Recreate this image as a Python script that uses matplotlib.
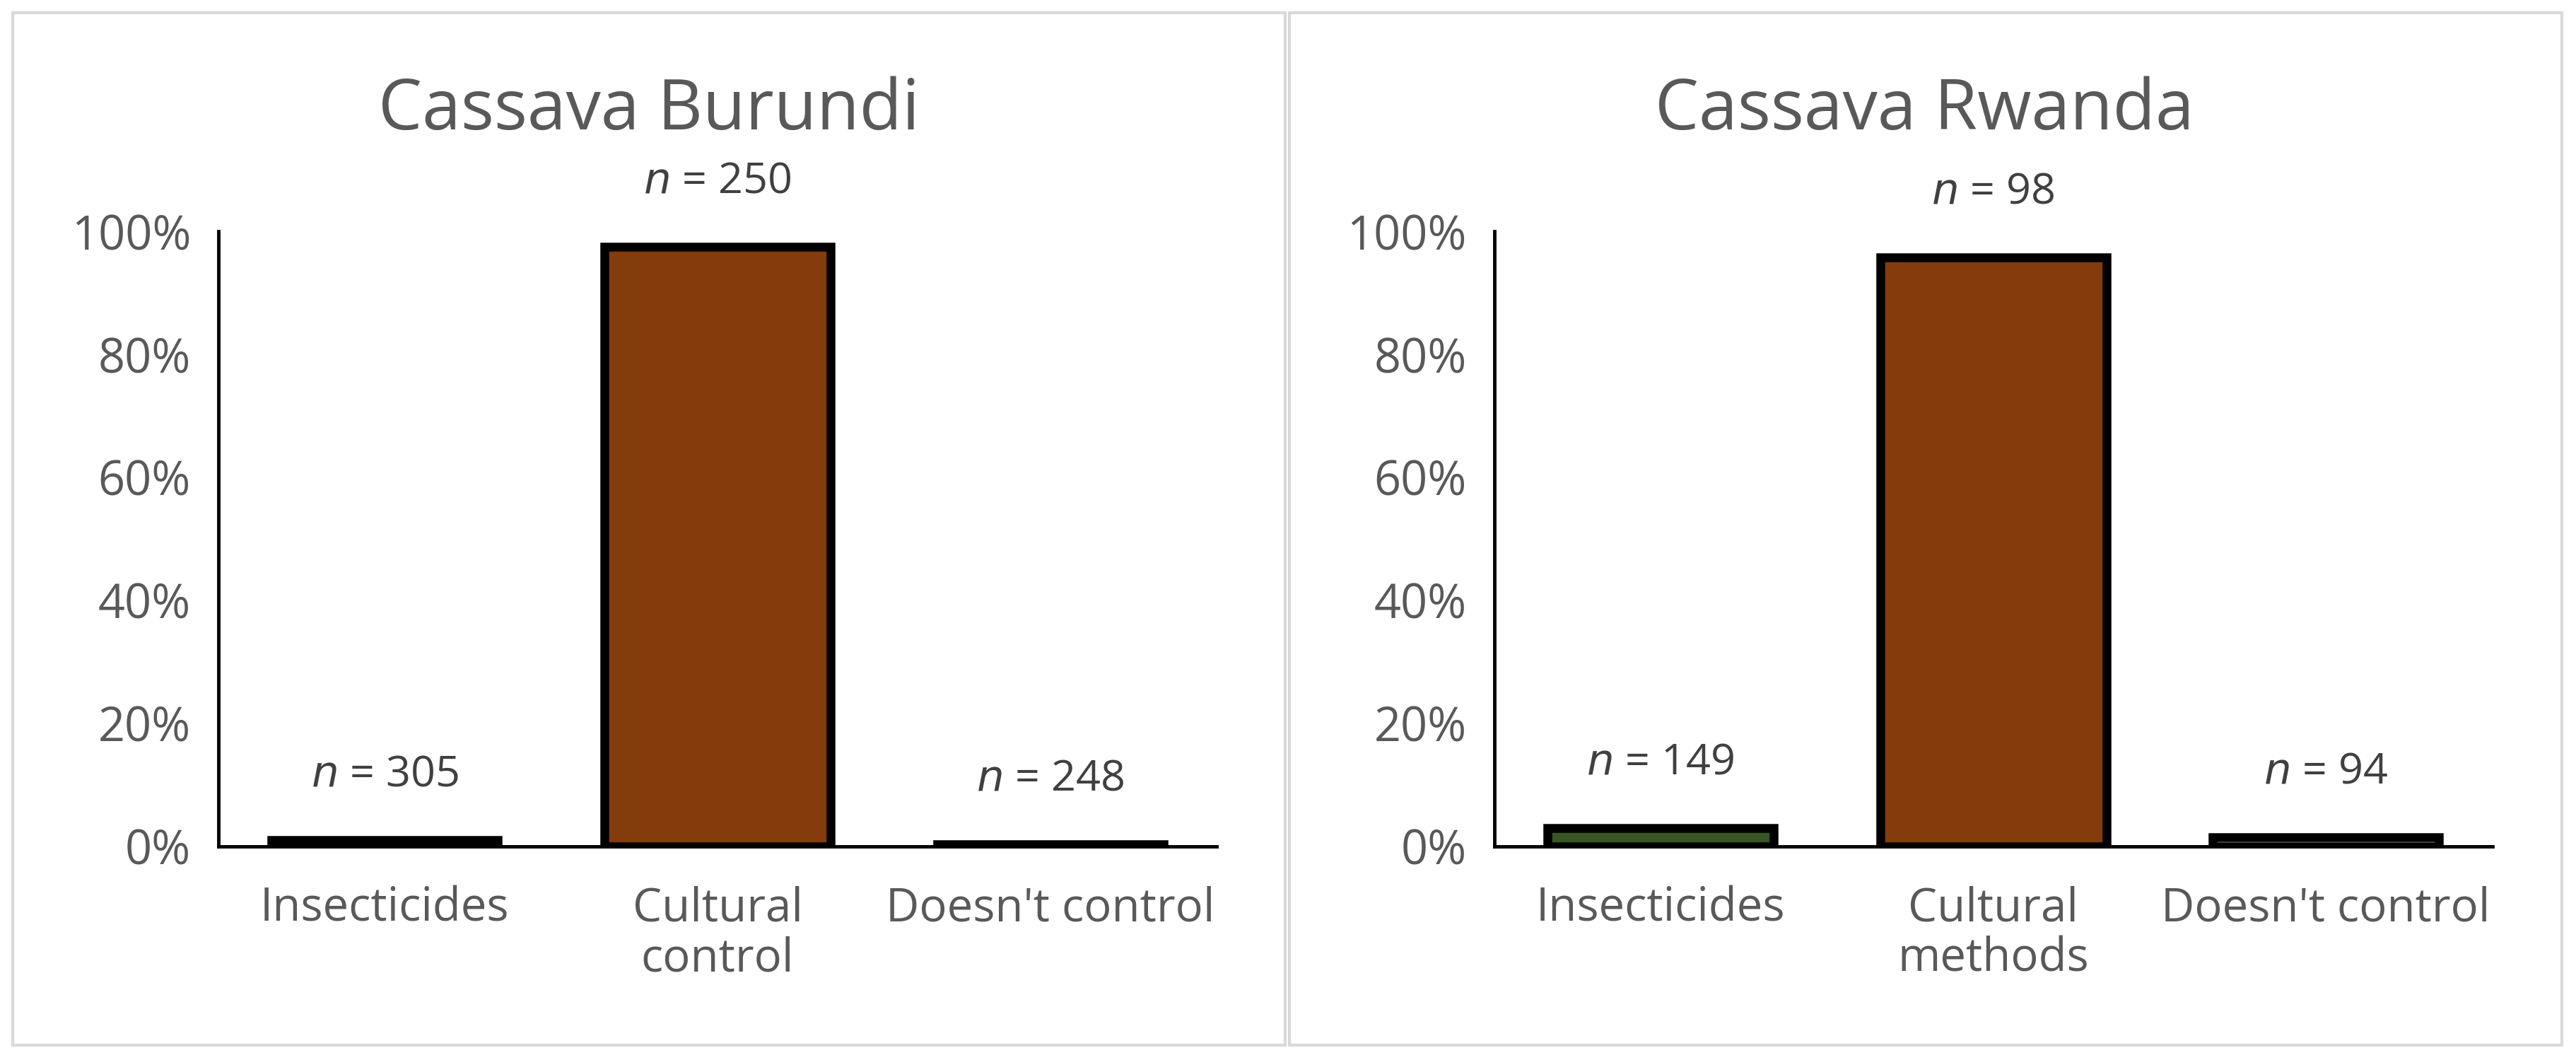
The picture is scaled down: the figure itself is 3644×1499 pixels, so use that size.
import matplotlib.pyplot as plt
from matplotlib.patches import Rectangle
from matplotlib.ticker import PercentFormatter

TITLES = ["Cassava Burundi", "Cassava Rwanda"]
CATS_BURUNDI = ["Insecticides", "Cultural\ncontrol", "Doesn't control"]
CATS_RWANDA = ["Insecticides", "Cultural\nmethods", "Doesn't control"]
VALS_BURUNDI = [0.010, 0.975, 0.003]
VALS_RWANDA = [0.030, 0.958, 0.015]
N_BURUNDI = [305, 250, 248]
N_RWANDA = [149, 98, 94]
COLORS = ["#375623", "#843C0C", "#FFFFFF"]
GRAY = "#595959"

plt.rcParams["font.family"] = ["Open Sans", "DejaVu Sans"]

fig = plt.figure(figsize=(36.44, 14.99), dpi=100)

# panel frames
for x0 in (0.005, 0.5005):
    fig.add_artist(Rectangle((x0, 0.014), 0.494, 0.974, transform=fig.transFigure,
                             fill=False, edgecolor="#D9D9D9", linewidth=3))

panels = [
    (0.0848, 0.252, TITLES[0], CATS_BURUNDI, VALS_BURUNDI, N_BURUNDI),
    (0.580, 0.747, TITLES[1], CATS_RWANDA, VALS_RWANDA, N_RWANDA),
]
for x0, tx, title, cats, vals, ns in panels:
    ax = fig.add_axes([x0, 0.2016, 0.3875, 0.58])
    x = range(len(cats))
    ax.bar(x, vals, width=0.68, color=COLORS, edgecolor="black", linewidth=9)
    for xi, v, n in zip(x, vals, ns):
        ax.text(xi, v + 0.072, f"$\\it{{n}}$ = {n}", ha="center", va="bottom",
                fontsize=44, color="#404040")
    ax.set_ylim(0, 1)
    ax.set_xlim(-0.5, 2.5)
    ax.set_xticks(list(x))
    ax.set_xticklabels(cats, fontsize=47, color=GRAY, linespacing=1.1)
    ax.set_yticks([0, 0.2, 0.4, 0.6, 0.8, 1.0])
    ax.yaxis.set_major_formatter(PercentFormatter(1.0, decimals=0))
    ax.tick_params(axis="y", labelsize=48, labelcolor=GRAY, length=0, pad=28)
    ax.tick_params(axis="x", length=0, pad=40)
    for s in ("top", "right"):
        ax.spines[s].set_visible(False)
    for s in ("left", "bottom"):
        ax.spines[s].set_linewidth(3.5)
        ax.spines[s].set_color("black")
    fig.text(tx, 0.895, title, ha="center", va="center", fontsize=71, color=GRAY)

fig.savefig("out.png", dpi=100)
